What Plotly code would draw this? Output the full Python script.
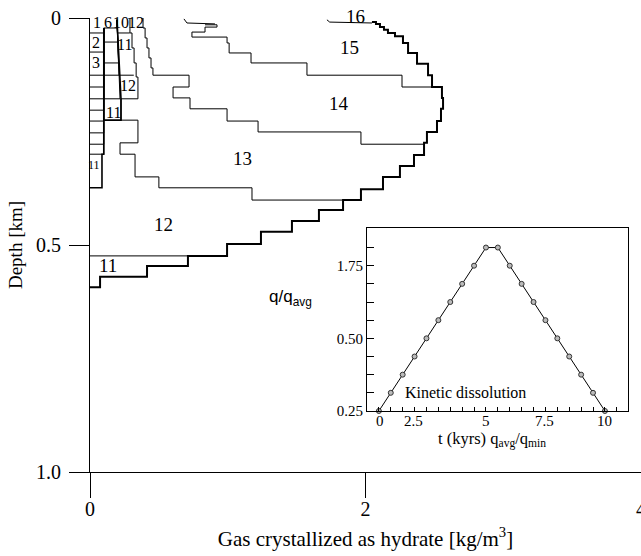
import plotly.graph_objects as go

SERIF = "Liberation Serif"

# ---------------- main chart data (x: kg/m^3, depth: km) ----------------
# column A: thin early profiles (value, top, bottom depths)
col_a_value = 0.10
col_a_top = 0.022
col_a_bottoms = [0.033, 0.075, 0.126, 0.152, 0.178, 0.203, 0.227, 0.253, 0.278, 0.300]
col_a_last_x = [0.10, 0.10, 0.087, 0.087, 0.0]
col_a_last_d = [0.022, 0.300, 0.300, 0.374, 0.374]

# column B
col_b_top_x, col_b_top_d = 0.196, 0.004
col_b_edge = [0.198, 0.201, 0.207, 0.211, 0.218]
col_b_depths = [0.022, 0.053, 0.099, 0.126, 0.178]
col_b_box_x = [0.196, 0.225, 0.225, 0.10]
col_b_box_d = [0.004, 0.178, 0.225, 0.225]

# column C rungs
col_c_inner = [0.198, 0.211]
col_c_outer = [0.289, 0.318]
col_c_depths = [0.033, 0.126]

# stepped profiles (hv): value, bottom depth of layer
p_x = [0.370, 0.385, 0.400, 0.414, 0.428, 0.443, 0.457, 0.719, 0.603, 0.726, 0.995, 1.220, 1.967, 2.425]
p_d = [0.000, 0.022, 0.044, 0.066, 0.088, 0.110, 0.126, 0.152, 0.176, 0.200, 0.227, 0.251, 0.278, 0.278]

q_x = [0.276, 0.290, 0.305, 0.320, 0.335, 0.348, 0.225, 0.348, 0.218, 0.327, 0.500, 1.176, 1.830]
q_d = [0.000, 0.033, 0.066, 0.099, 0.130, 0.178, 0.225, 0.275, 0.300, 0.350, 0.374, 0.401, 0.401]

env_x = [2.047, 2.076, 2.105, 2.134, 2.163, 2.214, 2.272, 2.309, 2.374, 2.454, 2.483, 2.555, 2.563,
         2.548, 2.519, 2.446, 2.425, 2.352, 2.250, 2.127, 1.967, 1.837, 1.662, 1.466, 1.241, 0.995,
         0.711, 0.414, 0.073, 0.0]
env_d = [0.009, 0.013, 0.020, 0.026, 0.033, 0.040, 0.055, 0.077, 0.101, 0.126, 0.152, 0.176, 0.200,
         0.227, 0.251, 0.275, 0.302, 0.326, 0.350, 0.377, 0.401, 0.423, 0.447, 0.471, 0.498, 0.524,
         0.546, 0.570, 0.593, 0.593]

f1_x = [0.682, 0.704, 0.907]
f1_d = [0.002, 0.011, 0.013]
f2_x = [0.835, 0.922, 0.835, 0.740, 0.995, 1.010, 1.169, 1.575, 2.265, 2.490]
f2_d = [0.015, 0.020, 0.031, 0.042, 0.055, 0.077, 0.099, 0.126, 0.152, 0.152]
g16_x = [1.72, 1.74, 2.047]
g16_d = [0.004, 0.009, 0.011]
s11_x = [0.0, 0.711]
s11_d = [0.524, 0.524]

region_labels = ["1", "6", "10", "12", "2", "11", "3", "12", "11", "11", "13", "12", "11", "14", "15", "16"]
region_x = [0.05, 0.13, 0.225, 0.334, 0.045, 0.254, 0.045, 0.276, 0.167, 0.03, 1.11, 0.53, 0.131, 1.808, 1.887, 1.924]
region_d = [0.011, 0.009, 0.009, 0.009, 0.055, 0.059, 0.099, 0.148, 0.209, 0.324, 0.31, 0.454, 0.546, 0.189, 0.066, 0.0]
region_shift = [0, 0, 0, 0, 0, 0, 0, 0, 0, 0, 0, 0, 0, 0, 0, 2]
region_size = [16, 16, 16, 16, 16, 16, 16, 16, 16, 12, 19, 19, 19, 19, 19, 19]

# ---------------- inset data ----------------
t_kyr = [0.5, 1.0, 1.5, 2.0, 2.5, 3.0, 3.5, 4.0, 4.5, 5.0, 5.5, 6.0, 6.5, 7.0, 7.5, 8.0, 8.5, 9.0, 9.5, 10.0]
q_ratio = [0.25, 0.4375, 0.625, 0.8125, 1.0, 1.1875, 1.375, 1.5625, 1.75, 1.9375,
           1.9375, 1.75, 1.5625, 1.375, 1.1875, 1.0, 0.8125, 0.625, 0.4375, 0.25]
inset_ytickvals = [0.25, 0.4375, 0.625, 0.8125, 1.0, 1.1875, 1.375, 1.5625, 1.75, 1.9375]
inset_yticktext = ["0.25", "", "", "", "0.50", "", "", "", "1.75", ""]
inset_xlabels = ["0", "2.5", "5", "7.5", "10"]
inset_xlabel_pos = [0.55, 1.95, 5.0, 7.45, 10.0]

fig = go.Figure()
LC = "black"

def line(x, d, width=1, shape="linear"):
    fig.add_trace(go.Scatter(x=x, y=d, mode="lines", line=dict(color=LC, width=width, shape=shape),
                             showlegend=False, hoverinfo="skip", cliponaxis=False))

for b in col_a_bottoms:
    line([col_a_value, col_a_value, 0.0], [col_a_top, b, b])
line(col_a_last_x, col_a_last_d, width=1.6)
for e, dd in zip(col_b_edge, col_b_depths):
    line([col_b_top_x, e, col_a_value], [col_b_top_d, dd, dd])
line(col_b_box_x, col_b_box_d, width=1.6)
for a, b, dd in zip(col_c_inner, col_c_outer, col_c_depths):
    line([a, b], [dd, dd])
line(p_x, p_d, shape="hv")
line(q_x, q_d, shape="hv")
line(f1_x, f1_d)
line(f2_x, f2_d, shape="hv")
line(g16_x, g16_d)
line(s11_x, s11_d)
line(env_x, env_d, width=2, shape="hv")

# inset
fig.add_trace(go.Scatter(x=t_kyr, y=q_ratio, mode="lines+markers", xaxis="x2", yaxis="y2",
                         line=dict(color="black", width=1),
                         marker=dict(symbol="circle", size=5, color="#bbbbbb",
                                     line=dict(color="#333333", width=1)),
                         showlegend=False, cliponaxis=False))

ann = []
for t, x, d, s, ys in zip(region_labels, region_x, region_d, region_size, region_shift):
    ann.append(dict(text=t, x=x, y=d, xref="x", yref="y", showarrow=False, yshift=ys,
                    xanchor="center", yanchor="middle",
                    font=dict(family=SERIF, size=s, color="black")))
for t, x in zip(inset_xlabels, inset_xlabel_pos):
    ann.append(dict(text=t, x=x, y=0.113, xref="x2", yref="paper", showarrow=False,
                    xanchor="center", yanchor="middle",
                    font=dict(family=SERIF, size=15, color="black")))
ann.append(dict(text="t (kyrs) q<sub>avg</sub>/q<sub>min</sub>", x=0.7296, y=0.072, xref="paper", yref="paper",
                xanchor="center", yanchor="middle",
                showarrow=False, font=dict(family=SERIF, size=16.5, color="black")))
ann.append(dict(text="q/q<sub>avg</sub>", x=0.363, y=0.383, xref="paper", yref="paper",
                xanchor="center", yanchor="middle",
                showarrow=False, font=dict(family="Liberation Sans", size=17, color="black")))
ann.append(dict(text="Kinetic dissolution", x=4.13, y=0.446, xref="x2", yref="y2",
                xanchor="center", yanchor="middle",
                showarrow=False, font=dict(family=SERIF, size=16, color="black")))

fig.update_layout(
    width=641, height=556,
    margin=dict(l=90, r=0, t=18, b=84, autoexpand=False),
    paper_bgcolor="white", plot_bgcolor="white",
    font=dict(family=SERIF, size=20, color="black"),
    xaxis=dict(domain=[0, 1], range=[0, 4], tickvals=[0, 2, 4], ticks="outside", ticklen=25,
               tickcolor="black", showline=True, linecolor="black", linewidth=1, automargin=False,
               showgrid=False, zeroline=False, ticklabeloverflow="allow", ticklabelstandoff=-6,
               title=dict(text="Gas crystallized as hydrate [kg/m<sup>3</sup>]", font=dict(size=21), standoff=12)),
    yaxis=dict(range=[1.0, 0], tickvals=[0, 0.5, 1.0], ticktext=["0", "0.5", "1.0"], ticks="outside",
               ticklen=20, tickcolor="black", showline=True, linecolor="black", linewidth=1,
               showgrid=False, zeroline=False, ticklabelstandoff=4, automargin=False,
               title=dict(text="Depth [km]", font=dict(size=19), standoff=8)),
    xaxis2=dict(domain=[0.5027, 0.9764], range=[0, 10.97], anchor="y2", showline=True, mirror=True,
                linecolor="black", ticks="inside", tick0=0, dtick=0.5, ticklen=4, tickcolor="black",
                showticklabels=False, showgrid=False, zeroline=False),
    yaxis2=dict(domain=[0.1344, 0.5374], range=[0.25, 2.139], anchor="x2", showline=True, mirror=True,
                linecolor="black", ticks="inside", tickvals=inset_ytickvals, ticktext=inset_yticktext,
                ticklen=7, tickcolor="black", tickfont=dict(size=15), showgrid=False, zeroline=False),
    annotations=ann,
)

fig.write_html("out.html")
